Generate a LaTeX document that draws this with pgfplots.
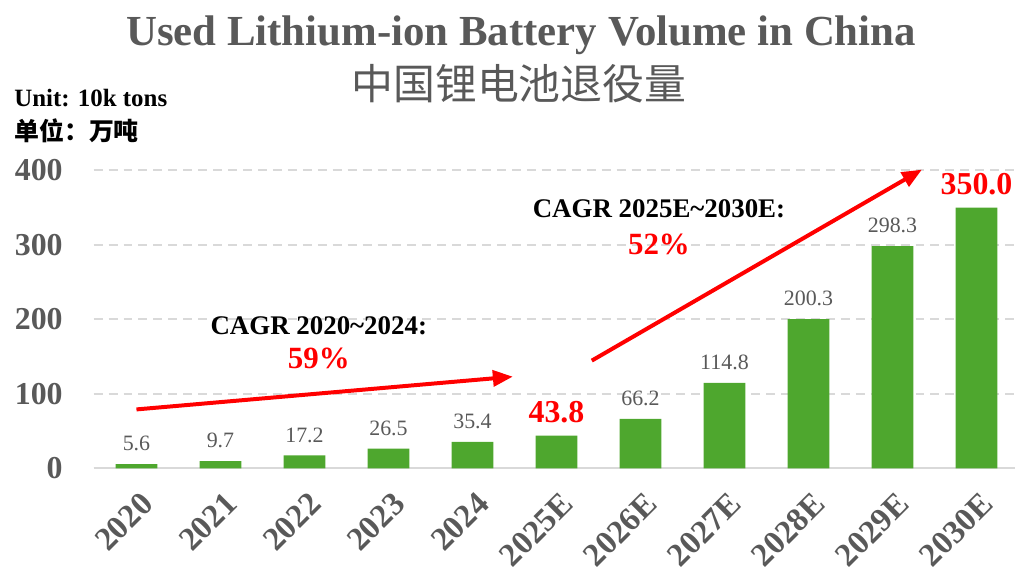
\documentclass[border=0pt]{standalone}
\usepackage{fontspec}
\setmainfont{Liberation Serif}
\newfontfamily\cjk{Noto Sans CJK SC}
\usepackage{pgfplots}
\pgfplotsset{compat=1.18}
\usetikzlibrary{arrows.meta}
\definecolor{bargreen}{HTML}{4EA72E}
\definecolor{txtgray}{HTML}{595959}
\definecolor{gridgray}{HTML}{D9D9D9}
\definecolor{hotred}{HTML}{FF0000}

\begin{document}
\begin{tikzpicture}
\begin{axis}[
    scale only axis,
    width=462.5pt, height=149.5pt,
    ybar, bar width=21pt,
    xmin=-0.51, xmax=10.46,
    ymin=0, ymax=400,
    ytick={0,100,200,300,400},
    xtick={0,...,10},
    xticklabels={2020,2021,2022,2023,2024,2025E,2026E,2027E,2028E,2029E,2030E},
    major tick length=0pt,
    separate axis lines,
    axis x line*=bottom,
    axis y line*=left,
    x axis line style={draw=gridgray, line width=1pt, -},
    y axis line style={draw=none},
    ymajorgrids,
    grid style={gridgray, line width=1pt, dash pattern=on 4.5pt off 3pt},
    /pgf/number format/assume math mode=true,
    yticklabel style={font=\fontsize{16}{18}\selectfont\bfseries, text=txtgray, xshift=-12pt},
    xticklabel style={font=\fontsize{16.5}{18}\selectfont\bfseries, text=txtgray, rotate=45, anchor=north east, xshift=-3.5pt, yshift=-5.5pt},
    clip=false,
    nodes near coords,
]
\addplot[fill=bargreen, draw=none, bar shift=0pt,
    nodes near coords style={font=\fontsize{11}{13}\selectfont, text=txtgray, yshift=3pt,
        /pgf/number format/.cd, fixed, precision=1, fixed zerofill}]
    coordinates {(0,5.6) (1,9.7) (2,17.2) (3,26.5) (4,35.4) (6,66.2) (7,114.8) (8,200.3) (9,298.3)};
\addplot[fill=bargreen, draw=none, bar shift=0pt,
    nodes near coords style={font=\fontsize{16}{19}\selectfont\bfseries, text=hotred, yshift=3pt,
        /pgf/number format/.cd, fixed, precision=1, fixed zerofill}]
    coordinates {(5,43.8) (10,350.0)};

% trend arrows and CAGR notes
\draw[hotred, line width=2pt, -{Triangle[length=10pt, width=8pt]}] (axis cs:0,79) -- (axis cs:4.48,123);
\draw[hotred, line width=2pt, -{Triangle[length=10pt, width=8pt]}] (axis cs:5.42,144.5) -- (axis cs:9.35,401);
\node[font=\fontsize{13.5}{16}\selectfont\bfseries] at (axis cs:2.17,191) {CAGR 2020\textasciitilde 2024:};
\node[font=\fontsize{15.5}{18}\selectfont\bfseries, text=hotred] at (axis cs:2.17,147) {59\%};
\node[font=\fontsize{13.5}{16}\selectfont\bfseries] at (axis cs:6.22,348) {CAGR 2025E\textasciitilde 2030E:};
\node[font=\fontsize{15.5}{18}\selectfont\bfseries, text=hotred] at (axis cs:6.22,301) {52\%};

% titles and unit
\node[font=\fontsize{21.5}{25}\selectfont\bfseries, text=txtgray] at (rel axis cs:0.4638,1.455) {Used Lithium-ion Battery Volume in China};
\node[font=\fontsize{21}{25}\selectfont\cjk, text=txtgray] at (rel axis cs:0.4616,1.291) {中国锂电池退役量};
\node[font=\fontsize{12.5}{15}\selectfont\bfseries, anchor=west, inner sep=0pt] at (rel axis cs:-0.0865,1.244) {Unit: 10k tons};
\node[font=\fontsize{12.5}{15}\selectfont\cjk\bfseries, anchor=west, inner sep=0pt] at (rel axis cs:-0.0865,1.134) {单位：万吨};

% page frame in the reference's proportions
\path (rel axis cs:-0.1016,1.572) rectangle (rel axis cs:1.0,-0.3244);
\end{axis}
\end{tikzpicture}
\end{document}
